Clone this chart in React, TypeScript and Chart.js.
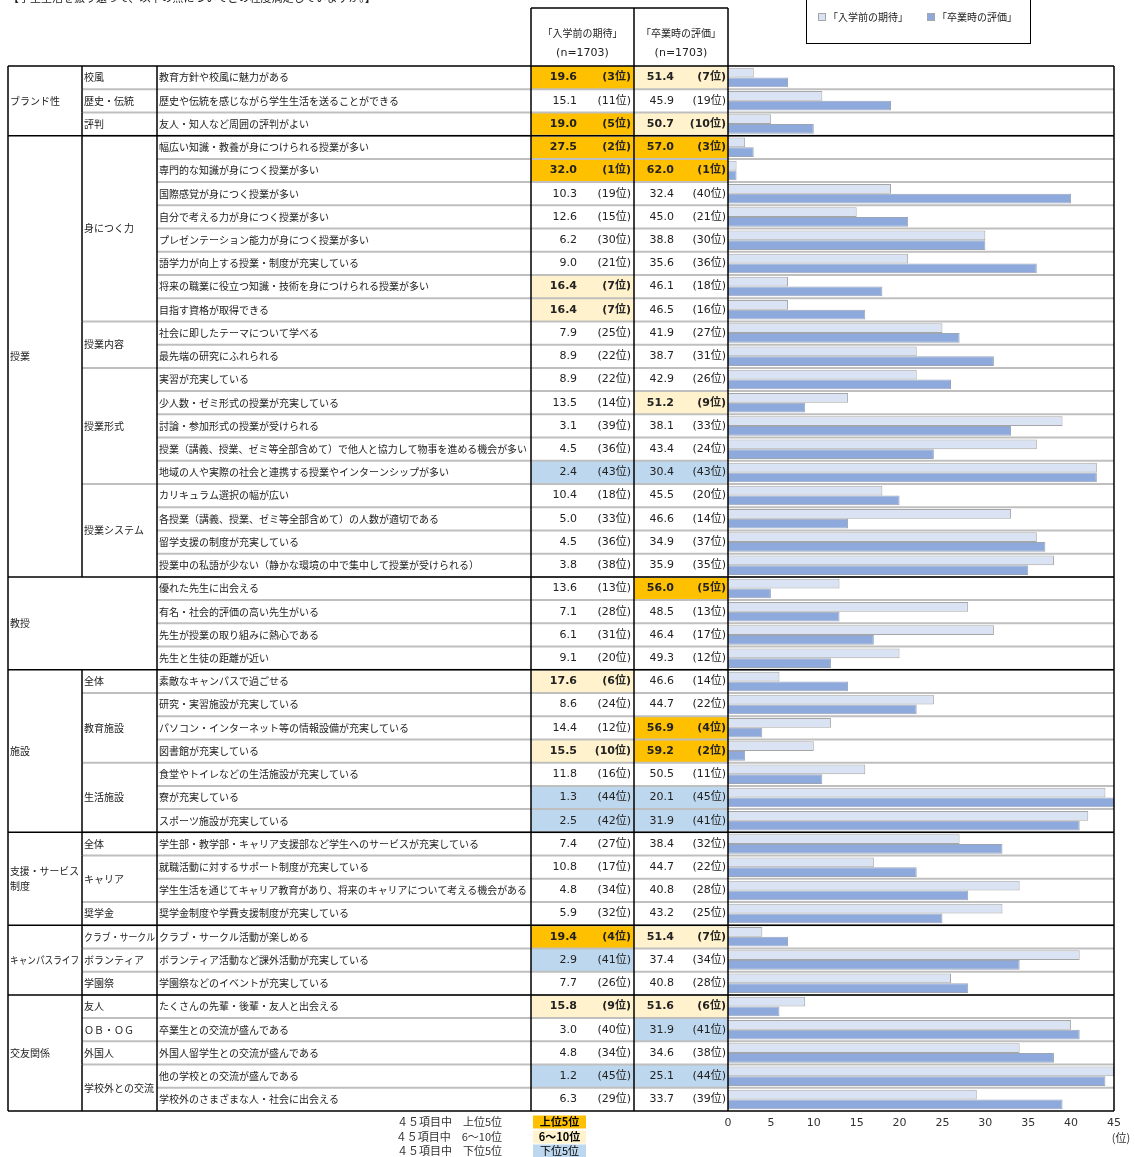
import React, { useEffect, useRef } from 'react';
import { Chart, registerables } from 'chart.js';

Chart.register(...registerables);

const titleText = '【学生生活を振り返って、以下の点についてどの程度満足していますか。】';

const items = [
  '教育方針や校風に魅力がある',
  '歴史や伝統を感じながら学生生活を送ることができる',
  '友人・知人など周囲の評判がよい',
  '幅広い知識・教養が身につけられる授業が多い',
  '専門的な知識が身につく授業が多い',
  '国際感覚が身につく授業が多い',
  '自分で考える力が身につく授業が多い',
  'プレゼンテーション能力が身につく授業が多い',
  '語学力が向上する授業・制度が充実している',
  '将来の職業に役立つ知識・技術を身につけられる授業が多い',
  '目指す資格が取得できる',
  '社会に即したテーマについて学べる',
  '最先端の研究にふれられる',
  '実習が充実している',
  '少人数・ゼミ形式の授業が充実している',
  '討論・参加形式の授業が受けられる',
  '授業（講義、授業、ゼミ等全部含めて）で他人と協力して物事を進める機会が多い',
  '地域の人や実際の社会と連携する授業やインターンシップが多い',
  'カリキュラム選択の幅が広い',
  '各授業（講義、授業、ゼミ等全部含めて）の人数が適切である',
  '留学支援の制度が充実している',
  '授業中の私語が少ない（静かな環境の中で集中して授業が受けられる）',
  '優れた先生に出会える',
  '有名・社会的評価の高い先生がいる',
  '先生が授業の取り組みに熱心である',
  '先生と生徒の距離が近い',
  '素敵なキャンパスで過ごせる',
  '研究・実習施設が充実している',
  'パソコン・インターネット等の情報設備が充実している',
  '図書館が充実している',
  '食堂やトイレなどの生活施設が充実している',
  '寮が充実している',
  'スポーツ施設が充実している',
  '学生部・教学部・キャリア支援部など学生へのサービスが充実している',
  '就職活動に対するサポート制度が充実している',
  '学生生活を通じてキャリア教育があり、将来のキャリアについて考える機会がある',
  '奨学金制度や学費支援制度が充実している',
  'クラブ・サークル活動が楽しめる',
  'ボランティア活動など課外活動が充実している',
  '学園祭などのイベントが充実している',
  'たくさんの先輩・後輩・友人と出会える',
  '卒業生との交流が盛んである',
  '外国人留学生との交流が盛んである',
  '他の学校との交流が盛んである',
  '学校外のさまざまな人・社会に出会える',
];

const expValues = [19.6, 15.1, 19.0, 27.5, 32.0, 10.3, 12.6, 6.2, 9.0, 16.4, 16.4, 7.9, 8.9, 8.9, 13.5, 3.1, 4.5, 2.4, 10.4, 5.0, 4.5, 3.8, 13.6, 7.1, 6.1, 9.1, 17.6, 8.6, 14.4, 15.5, 11.8, 1.3, 2.5, 7.4, 10.8, 4.8, 5.9, 19.4, 2.9, 7.7, 15.8, 3.0, 4.8, 1.2, 6.3];
const expRanks = [3, 11, 5, 2, 1, 19, 15, 30, 21, 7, 7, 25, 22, 22, 14, 39, 36, 43, 18, 33, 36, 38, 13, 28, 31, 20, 6, 24, 12, 10, 16, 44, 42, 27, 17, 34, 32, 4, 41, 26, 9, 40, 34, 45, 29];
const gradValues = [51.4, 45.9, 50.7, 57.0, 62.0, 32.4, 45.0, 38.8, 35.6, 46.1, 46.5, 41.9, 38.7, 42.9, 51.2, 38.1, 43.4, 30.4, 45.5, 46.6, 34.9, 35.9, 56.0, 48.5, 46.4, 49.3, 46.6, 44.7, 56.9, 59.2, 50.5, 20.1, 31.9, 38.4, 44.7, 40.8, 43.2, 51.4, 37.4, 40.8, 51.6, 31.9, 34.6, 25.1, 33.7];
const gradRanks = [7, 19, 10, 3, 1, 40, 21, 30, 36, 18, 16, 27, 31, 26, 9, 33, 24, 43, 20, 14, 37, 35, 5, 13, 17, 12, 14, 22, 4, 2, 11, 45, 41, 32, 22, 28, 25, 7, 34, 28, 6, 41, 38, 44, 39];

const mainGroupLabels = ['ブランド性', '授業', '教授', '施設', '支援・サービス\n制度', 'キャンパスライフ', '交友関係'];
const mainGroupSizes = [3, 19, 4, 7, 4, 3, 5];
const subGroupLabels = ['校風', '歴史・伝統', '評判', '身につく力', '授業内容', '授業形式', '授業システム', '', '全体', '教育施設', '生活施設', '全体', 'キャリア', '奨学金', 'クラブ・サークル', 'ボランティア', '学園祭', '友人', 'ＯＢ・ＯＧ', '外国人', '学校外との交流'];
const subGroupSizes = [1, 1, 1, 8, 2, 5, 4, 4, 1, 3, 3, 1, 2, 1, 1, 1, 1, 1, 1, 1, 2];

const seriesLabels = ['「入学前の期待」', '「卒業時の評価」'];
const sampleLabel = '(n=1703)';
const xTicks = [0, 5, 10, 15, 20, 25, 30, 35, 40, 45];
const rankLegend = [
  ['４５項目中　上位5位', '上位5位'],
  ['４５項目中　6～10位', '6～10位'],
  ['４５項目中　下位5位', '下位5位'],
];

const C_ORANGE = '#FFC000';
const C_CREAM = '#FFF2CC';
const C_BLUE = '#BDD7EE';
const C_GRAY = '#BFBFBF';
const JP = '"Noto Sans CJK JP", "Noto Sans", sans-serif';
const NUM = '"DejaVu Sans", "Noto Sans CJK JP", sans-serif';

const X = { c1: 8, c2: 82, c3: 157, c4: 531, c5: 634, c6: 728, end: 1114 };

function rankStyle(r: number): { fill: string | null; bold: boolean } {
  if (r <= 5) return { fill: C_ORANGE, bold: true };
  if (r <= 10) return { fill: C_CREAM, bold: true };
  if (r >= 41) return { fill: C_BLUE, bold: false };
  return { fill: null, bold: false };
}

function boundaries(sizes: number[]) {
  const out: number[] = [];
  let acc = 0;
  sizes.forEach((s) => {
    out.push(acc);
    acc += s;
  });
  return out;
}

const tablePlugin = {
  id: 'tablePlugin',
  beforeDatasetsDraw(chart: any) {
    const ctx: CanvasRenderingContext2D = chart.ctx;
    const area = chart.chartArea;
    const yS = chart.scales.y;
    const n = items.length;
    const rowH = (area.bottom - area.top) / n;
    const top = (i: number) => yS.getPixelForValue(i) - rowH / 2;
    ctx.save();

    for (let i = 0; i < n; i++) {
      const t = top(i);
      const s1 = rankStyle(expRanks[i]);
      const s2 = rankStyle(gradRanks[i]);
      if (s1.fill) {
        ctx.fillStyle = s1.fill;
        ctx.fillRect(X.c4, t, X.c5 - X.c4, rowH);
      }
      if (s2.fill) {
        ctx.fillStyle = s2.fill;
        ctx.fillRect(X.c5, t, X.c6 - X.c5, rowH);
      }
    }

    ctx.strokeStyle = C_GRAY;
    ctx.lineWidth = 2;
    for (let i = 1; i < n; i++) {
      const yy = top(i);
      ctx.beginPath();
      ctx.moveTo(X.c3, yy);
      ctx.lineTo(X.end, yy);
      ctx.stroke();
    }
    const sb = boundaries(subGroupSizes);
    sb.forEach((b, k) => {
      if (b === 0) return;
      if (subGroupLabels[k] === '' || subGroupLabels[k - 1] === '') return;
      const yy = top(b);
      ctx.beginPath();
      ctx.moveTo(X.c2, yy);
      ctx.lineTo(X.c3, yy);
      ctx.stroke();
    });
    ctx.restore();
  },
  afterDatasetsDraw(chart: any) {
    const ctx: CanvasRenderingContext2D = chart.ctx;
    const area = chart.chartArea;
    const yS = chart.scales.y;
    const xS = chart.scales.x;
    const n = items.length;
    const rowH = (area.bottom - area.top) / n;
    const top = (i: number) => yS.getPixelForValue(i) - rowH / 2;
    const mid = (i: number) => yS.getPixelForValue(i);
    ctx.save();

    ctx.fillStyle = '#222';
    ctx.font = `11px ${JP}`;
    ctx.textBaseline = 'middle';
    ctx.textAlign = 'left';
    ctx.fillText(titleText, 8, -2);

    ctx.strokeStyle = '#000';
    ctx.lineWidth = 1.5;
    const mb = boundaries(mainGroupSizes);
    mb.forEach((b) => {
      if (b === 0) return;
      const yy = top(b);
      ctx.beginPath();
      ctx.moveTo(X.c1, yy);
      ctx.lineTo(X.end, yy);
      ctx.stroke();
    });
    ctx.beginPath();
    ctx.moveTo(X.c1, area.top);
    ctx.lineTo(X.end, area.top);
    ctx.moveTo(X.c1, area.bottom);
    ctx.lineTo(X.end, area.bottom);
    ctx.moveTo(X.c1, area.top);
    ctx.lineTo(X.c1, area.bottom);
    ctx.moveTo(X.end, area.top);
    ctx.lineTo(X.end, area.bottom);
    ctx.moveTo(X.c3, area.top);
    ctx.lineTo(X.c3, area.bottom);
    ctx.moveTo(X.c4, 8);
    ctx.lineTo(X.c4, area.bottom);
    ctx.moveTo(X.c5, 8);
    ctx.lineTo(X.c5, area.bottom);
    ctx.moveTo(X.c6, 8);
    ctx.lineTo(X.c6, area.bottom);
    ctx.moveTo(X.c4, 8);
    ctx.lineTo(X.c6, 8);
    ctx.stroke();
    const sb = boundaries(subGroupSizes);
    sb.forEach((b, k) => {
      if (subGroupLabels[k] === '') return;
      ctx.beginPath();
      ctx.moveTo(X.c2, top(b));
      ctx.lineTo(X.c2, top(b + subGroupSizes[k]));
      ctx.stroke();
    });

    ctx.fillStyle = '#222';
    ctx.textAlign = 'center';
    ctx.font = `10px ${JP}`;
    ctx.fillText(seriesLabels[0], (X.c4 + X.c5) / 2, 33);
    ctx.fillText(seriesLabels[1], (X.c5 + X.c6) / 2, 33);
    ctx.font = `11px ${NUM}`;
    ctx.fillText(sampleLabel, (X.c4 + X.c5) / 2, 53);
    ctx.fillText(sampleLabel, (X.c5 + X.c6) / 2, 53);

    ctx.textAlign = 'left';
    ctx.font = `10px ${JP}`;
    mb.forEach((b, k) => {
      const cy = (top(b) + top(b + mainGroupSizes[k])) / 2;
      const lines = mainGroupLabels[k].split('\n');
      const lh = 15;
      lines.forEach((ln, j) => {
        ctx.fillText(ln, X.c1 + 2, cy + (j - (lines.length - 1) / 2) * lh, X.c2 - X.c1 - 5);
      });
    });
    sb.forEach((b, k) => {
      if (!subGroupLabels[k]) return;
      const cy = (top(b) + top(b + subGroupSizes[k])) / 2;
      ctx.fillText(subGroupLabels[k], X.c2 + 2, cy, X.c3 - X.c2 - 4);
    });
    for (let i = 0; i < n; i++) {
      ctx.fillText(items[i], X.c3 + 2, mid(i), X.c4 - X.c3 - 6);
    }
    ctx.textAlign = 'right';
    for (let i = 0; i < n; i++) {
      const s1 = rankStyle(expRanks[i]);
      const s2 = rankStyle(gradRanks[i]);
      ctx.font = `${s1.bold ? 'bold ' : ''}11px ${NUM}`;
      ctx.fillText(expValues[i].toFixed(1), 577, mid(i));
      ctx.fillText(`(${expRanks[i]}位)`, 631, mid(i));
      ctx.font = `${s2.bold ? 'bold ' : ''}11px ${NUM}`;
      ctx.fillText(gradValues[i].toFixed(1), 674, mid(i));
      ctx.fillText(`(${gradRanks[i]}位)`, 726, mid(i));
    }

    ctx.textAlign = 'center';
    ctx.font = `11px ${JP}`;
    ctx.fillStyle = '#333';
    ctx.fillText('(位)', xS.getPixelForValue(45) + 7, 1138);

    ctx.strokeStyle = '#000';
    ctx.lineWidth = 1;
    ctx.strokeRect(806.5, -1.5, 224, 45);
    const ds = chart.data.datasets;
    const legendX = [818, 927];
    ctx.font = `10px ${JP}`;
    ctx.textAlign = 'left';
    legendX.forEach((lx, k) => {
      ctx.fillStyle = ds[k].backgroundColor;
      ctx.fillRect(lx, 13, 8, 8);
      ctx.strokeStyle = '#A6A6A6';
      ctx.strokeRect(lx + 0.5, 13.5, 7, 7);
      ctx.fillStyle = '#222';
      ctx.fillText(ds[k].label, lx + 10, 17);
    });

    const fills = [C_ORANGE, C_CREAM, C_BLUE];
    const ly = [1122, 1137, 1151];
    rankLegend.forEach((r, k) => {
      ctx.fillStyle = '#333';
      ctx.textAlign = 'right';
      ctx.font = `11px ${JP}`;
      ctx.fillText(r[0], 502, ly[k]);
      ctx.fillStyle = fills[k];
      ctx.fillRect(533, ly[k] - 6.5, 53, 13);
      ctx.fillStyle = '#000';
      ctx.textAlign = 'center';
      ctx.font = `${k < 2 ? 'bold ' : ''}11px ${JP}`;
      ctx.fillText(r[1], 559.5, ly[k]);
    });

    ctx.restore();
  },
};

export default function App() {
  const ref = useRef<HTMLCanvasElement | null>(null);
  useEffect(() => {
    if (!ref.current) return;
    const chart = new Chart(ref.current, {
      type: 'bar',
      data: {
        labels: items,
        datasets: [
          {
            label: seriesLabels[0],
            data: expRanks,
            backgroundColor: '#DAE3F3',
            borderColor: '#A6A6A6',
            borderWidth: 1,
            categoryPercentage: 0.84,
            barPercentage: 1,
          },
          {
            label: seriesLabels[1],
            data: gradRanks,
            backgroundColor: '#8EA9DB',
            borderColor: '#9AA5B8',
            borderWidth: 1,
            categoryPercentage: 0.84,
            barPercentage: 1,
          },
        ],
      },
      options: {
        indexAxis: 'y',
        responsive: false,
        animation: false,
        events: [],
        layout: { padding: { left: 728, right: 21, top: 66, bottom: 16 } },
        plugins: { legend: { display: false }, tooltip: { enabled: false }, title: { display: false } },
        scales: {
          x: {
            min: 0,
            max: 45,
            afterBuildTicks: (scale: any) => {
              scale.ticks = xTicks.map((v) => ({ value: v }));
            },
            ticks: { font: { size: 11, family: 'DejaVu Sans' }, color: '#333', padding: 6, maxRotation: 0 },
            grid: { display: false, drawTicks: false },
            border: { display: false },
            afterFit: (scale: any) => {
              scale.height = 30;
            },
          },
          y: { display: false },
        },
      } as any,
      plugins: [tablePlugin],
    });
    return () => chart.destroy();
  }, []);
  return (
    <div style={{ position: 'absolute', left: 0, top: 0, width: 1135, height: 1157 }}>
      <canvas ref={ref} width={1135} height={1157} style={{ display: 'block' }} />
    </div>
  );
}
